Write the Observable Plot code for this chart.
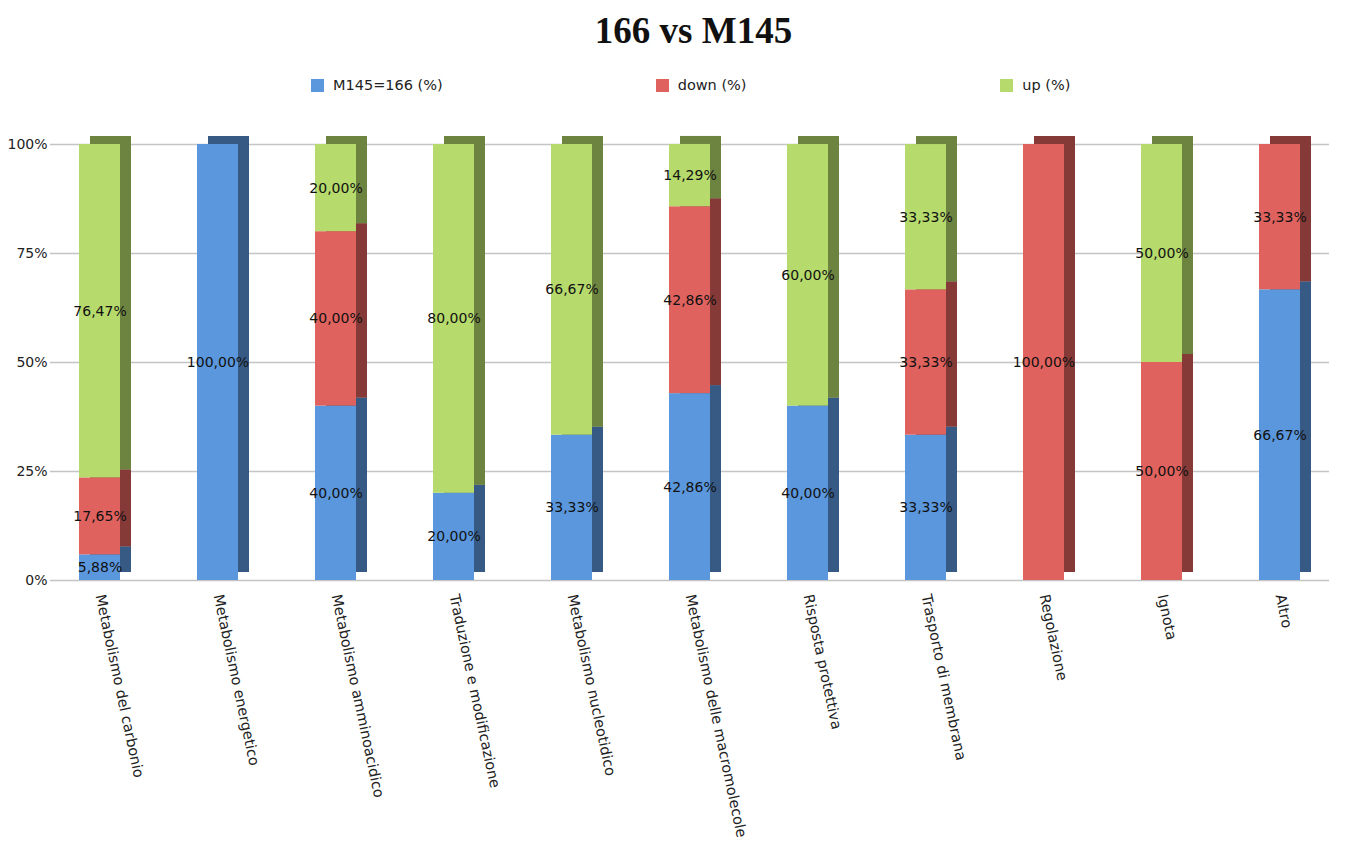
<!DOCTYPE html>
<html>
<head>
<meta charset="utf-8">
<script src="https://cdn.jsdelivr.net/npm/d3@7"></script>
<script src="https://cdn.jsdelivr.net/npm/@observablehq/plot@0.6"></script>
<style>
  body { margin: 0; background: #fff; font-family: "DejaVu Sans", sans-serif; }
  #title { height: 60px; line-height: 62px; text-align: center; padding-left: 42px;
           font-family: "Liberation Serif", "Times New Roman", serif; font-weight: bold; font-size: 37px; color: #111; }
  #legend { height: 50px; display: flex; align-items: center; padding-left: 311px; box-sizing: border-box; }
  .item { width: 355px; display: flex; align-items: center; font-size: 14.5px; color: #222; }
  .sw { width: 13px; height: 13px; margin-right: 9px; }
</style>
</head>
<body>
<div id="title">166 vs M145</div>
<div id="legend"></div>
<div id="chart"></div>
<script>
// Functional categories (x axis)
const categories = [
  "Metabolismo del carbonio",
  "Metabolismo energetico",
  "Metabolismo amminoacidico",
  "Traduzione e modificazione",
  "Metabolismo nucleotidico",
  "Metabolismo delle macromolecole",
  "Risposta protettiva",
  "Trasporto di membrana",
  "Regolazione",
  "Ignota",
  "Altro"
];

// Series, stacked bottom to top
const seriesNames = ["M145=166 (%)", "down (%)", "up (%)"];
const seriesColors = ["#5b97dc", "#df625e", "#b6da6c"];

// Percentages per category
const equal = [5.88, 100, 40, 20, 33.33, 42.86, 40, 33.33, 0, 0, 66.67];
const down  = [17.65, 0, 40, 0, 0, 42.86, 0, 33.33, 100, 50, 33.33];
const up    = [76.47, 0, 20, 80, 66.67, 14.29, 60, 33.33, 0, 50, 0];

const yTicks = [0, 25, 50, 75, 100];

const columns = [equal, down, up];
const data = [];
categories.forEach((c, i) => {
  seriesNames.forEach((s, j) => {
    const v = columns[j][i];
    if (v > 0) data.push({category: c, series: s, value: v});
  });
});

// Legend
const legend = document.getElementById("legend");
seriesNames.forEach((s, i) => {
  const it = document.createElement("div");
  it.className = "item";
  it.innerHTML = `<span class="sw" style="background:${seriesColors[i]}"></span><span>${s}</span>`;
  legend.appendChild(it);
});

const fmt = v => v.toFixed(2).replace(".", ",") + "%";
const stackOpts = {x: "category", y: "value", z: "series"};

const chart = Plot.plot({
  width: 1345,
  height: 757,
  marginLeft: 50,
  marginRight: 16,
  marginTop: 34,
  marginBottom: 287,
  style: {fontFamily: "DejaVu Sans, sans-serif", fontSize: "14px", color: "#222", background: "#fff"},
  x: {domain: categories, paddingInner: 0.65, paddingOuter: 0.2, label: null},
  y: {domain: [0, 100], label: null},
  color: {domain: seriesNames, range: seriesColors},
  marks: [
    Plot.gridY(yTicks, {stroke: "#c4c4c4", strokeOpacity: 1, strokeWidth: 1.5}),
    Plot.axisY(yTicks, {tickSize: 0, tickPadding: 3, tickFormat: d => d + "%", fontSize: 14, label: null}),
    Plot.axisX({tickSize: 0, tickPadding: 14, tickRotate: 78, fontSize: 14.5, label: null}),
    // depth face (shaded)
    Plot.barY(data, Plot.stackY({...stackOpts, fill: "series", dx: 11, dy: -8})),
    Plot.barY(data, Plot.stackY({...stackOpts, fill: "#000", fillOpacity: 0.4, dx: 11, dy: -8})),
    // front face
    Plot.barY(data, Plot.stackY({...stackOpts, fill: "series"})),
    Plot.text(data, Plot.stackY({...stackOpts, text: d => fmt(d.value), fill: "#111", fontSize: 14}))
  ]
});
document.getElementById("chart").appendChild(chart);
</script>
</body>
</html>
